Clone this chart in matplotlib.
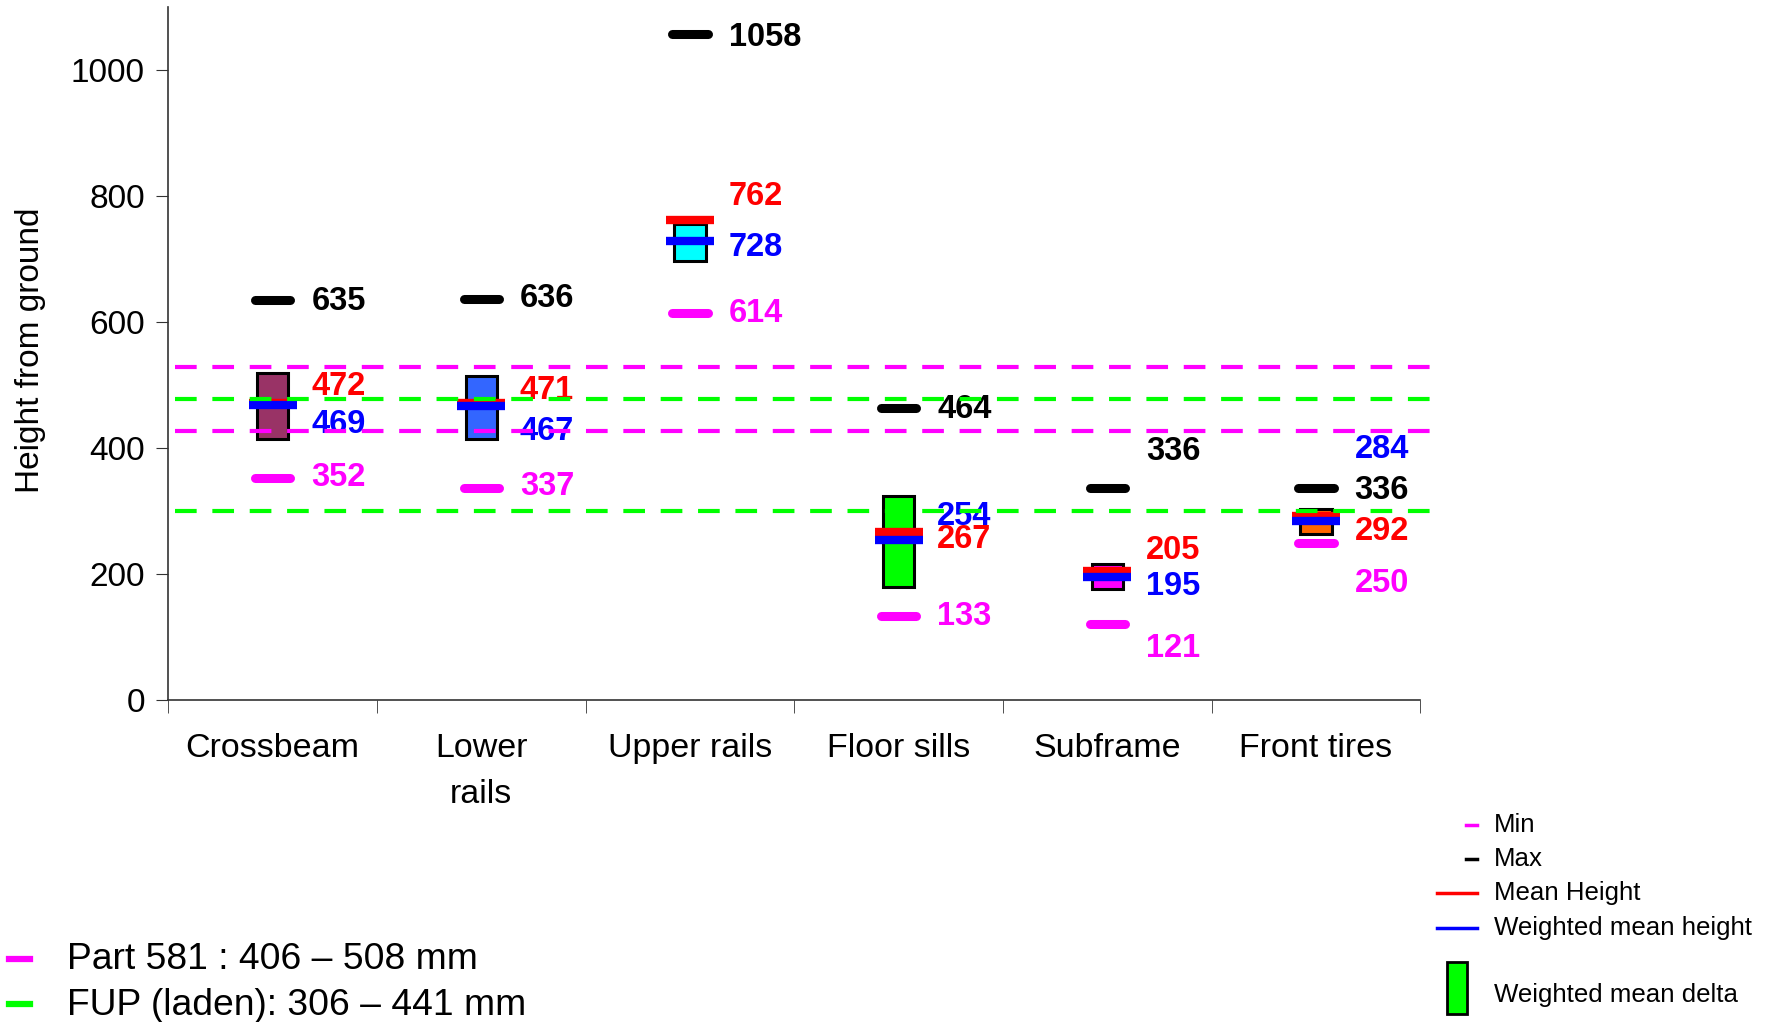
import matplotlib.pyplot as plt
from matplotlib.lines import Line2D
from matplotlib.patches import Rectangle

plt.rcParams['font.family'] = ['Liberation Sans', 'DejaVu Sans']
plt.rcParams['lines.scale_dashes'] = False

categories = ['Crossbeam', 'Lower\nrails', 'Upper rails', 'Floor sills', 'Subframe', 'Front tires']
max_height = [635, 636, 1058, 464, 336, 336]
min_height = [352, 337, 614, 133, 121, 250]
mean_height = [472, 471, 762, 267, 205, 292]
wmean_height = [469, 467, 728, 254, 195, 284]
delta_low = [415, 415, 697, 180, 176, 263]
delta_high = [519, 514, 755, 324, 216, 304]
box_colors = ['#993366', '#3366FF', '#00FFFF', '#00FF00', '#FF00FF', '#FF6600']

part581_lines = [427, 528]
fup_lines = [300, 478]

# where the value labels sit (they get shifted to avoid overlaps)
max_label_y = [632, 637, 1052, 461, 394, 333]
mean_label_y = [497, 492, 799, 255, 237, 267]
wmean_label_y = [438, 427, 718, 291, 180, 398]
min_label_y = [354, 339, 614, 133, 82, 185]

MAGENTA = '#FF00FF'
GREEN = '#00FF00'

fig = plt.figure(figsize=(17.73, 10.22), dpi=100)
ax = fig.add_axes([0.095, 0.315, 0.706, 0.678])

xs = list(range(len(categories)))

# weighted mean delta boxes
ax.bar(xs, [h - l for h, l in zip(delta_high, delta_low)], bottom=delta_low,
       width=0.15, color=box_colors, edgecolor='black', linewidth=2.2, zorder=2)

# mean and weighted mean
ax.hlines(mean_height, [x - 0.115 for x in xs], [x + 0.115 for x in xs],
          colors='red', linewidth=6, zorder=3)
ax.hlines(wmean_height, [x - 0.115 for x in xs], [x + 0.115 for x in xs],
          colors='blue', linewidth=6, zorder=3)

# min / max bars
ax.hlines(max_height, [x - 0.085 for x in xs], [x + 0.085 for x in xs],
          colors='black', linewidth=6.5, capstyle='round', zorder=3)
ax.hlines(min_height, [x - 0.085 for x in xs], [x + 0.085 for x in xs],
          colors=MAGENTA, linewidth=6.5, capstyle='round', zorder=3)

# value labels
for i in xs:
    tx = i + 0.185
    ax.text(tx, max_label_y[i], str(max_height[i]), color='black', fontsize=23.5,
            fontweight='bold', va='center', ha='left', zorder=4)
    ax.text(tx, mean_label_y[i], str(mean_height[i]), color='red', fontsize=23.5,
            fontweight='bold', va='center', ha='left', zorder=4)
    ax.text(tx, wmean_label_y[i], str(wmean_height[i]), color='blue', fontsize=23.5,
            fontweight='bold', va='center', ha='left', zorder=4)
    ax.text(tx, min_label_y[i], str(min_height[i]), color=MAGENTA, fontsize=23.5,
            fontweight='bold', va='center', ha='left', zorder=4)

# reference bands (drawn on top, running a bit past the axis)
for y in part581_lines:
    ax.axhline(y, xmin=0.005, xmax=1.014, color=MAGENTA, linewidth=3,
               linestyle=(0, (15.6, 11.3)), clip_on=False, zorder=5)
for y in fup_lines:
    ax.axhline(y, xmin=0.005, xmax=1.014, color=GREEN, linewidth=3,
               linestyle=(0, (15.6, 11.3)), clip_on=False, zorder=5)

ax.set_xlim(-0.5, 5.5)
ax.set_ylim(0, 1100)
ax.set_yticks(range(0, 1001, 200))
ax.set_xticks(xs)
ax.set_xticklabels(categories, fontsize=24.5, linespacing=1.6)
ax.set_xticks([x - 0.5 for x in range(len(categories) + 1)], minor=True)
ax.tick_params(axis='x', which='major', length=0, pad=24)
ax.tick_params(axis='x', which='minor', length=9, direction='out', color='#333333')
ax.tick_params(axis='y', labelsize=24, length=9, pad=8, direction='out', color='#333333')
for s in ['top', 'right']:
    ax.spines[s].set_visible(False)
for s in ['left', 'bottom']:
    ax.spines[s].set_color('#333333')
    ax.spines[s].set_linewidth(1.2)

fig.text(0.017, 0.657, 'Height from ground', rotation=90, fontsize=24,
         ha='center', va='center')

# right-hand legend
leg_rows = [(0.1928, 'Min'), (0.1595, 'Max'), (0.1262, 'Mean Height'), (0.092, 'Weighted mean height')]
leg_marks = [(0.8268, 0.8331, MAGENTA), (0.8268, 0.8331, 'black'),
             (0.8105, 0.8331, 'red'), (0.8105, 0.8331, 'blue')]
for (ty, label), (x0, x1, c) in zip(leg_rows, leg_marks):
    fig.add_artist(Line2D([x0, x1], [ty, ty], color=c, linewidth=2.5,
                          transform=fig.transFigure))
    fig.text(0.8426, ty, label, fontsize=18.6, ha='left', va='center')
fig.add_artist(Rectangle((0.8161, 0.0078), 0.0113, 0.0509, facecolor=GREEN,
                         edgecolor='black', linewidth=2, transform=fig.transFigure))
fig.text(0.8426, 0.0264, 'Weighted mean delta', fontsize=18.6, ha='left', va='center')

# bottom-left legend for the bands
fig.add_artist(Line2D([0.0051, 0.0169], [0.0616, 0.0616], color=MAGENTA, linewidth=4.5,
                      transform=fig.transFigure))
fig.text(0.0378, 0.0607, 'Part 581 : 406 \u2013 508 mm', fontsize=26.8, ha='left', va='center')
fig.add_artist(Line2D([0.0051, 0.0169], [0.0176, 0.0176], color=GREEN, linewidth=4.5,
                      transform=fig.transFigure))
fig.text(0.0378, 0.0166, 'FUP (laden): 306 \u2013 441 mm', fontsize=26.8, ha='left', va='center')

fig.savefig('out.png', dpi=100)
